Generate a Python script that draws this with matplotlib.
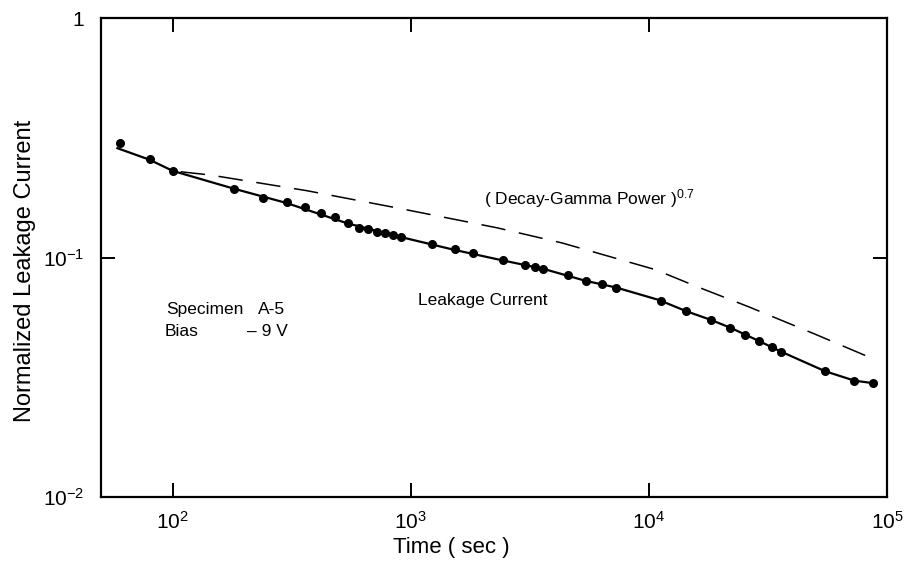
import matplotlib
matplotlib.use("Agg")
import matplotlib.pyplot as plt
from matplotlib.ticker import FixedLocator, FixedFormatter, NullLocator

plt.rcParams['font.family'] = ['Liberation Sans', 'DejaVu Sans']
plt.rcParams['mathtext.default'] = 'regular'

# measured leakage current (normalized) vs time in seconds
time_s = [60, 80, 100, 181, 240, 303, 361, 420, 479, 543, 604, 661, 721, 782,
          842, 909, 1225, 1528, 1824, 2438, 3020, 3327, 3584, 4560, 5450,
          6370, 7290, 11270, 14360, 18300, 21970, 25430, 29100, 32800, 35900,
          54900, 72800, 87100]
leakage = [0.302, 0.257, 0.230, 0.194, 0.178, 0.170, 0.162, 0.154, 0.147,
           0.139, 0.133, 0.131, 0.128, 0.126, 0.1245, 0.122, 0.114, 0.108,
           0.104, 0.0975, 0.0928, 0.0912, 0.0897, 0.0845, 0.0798, 0.0774,
           0.0749, 0.0658, 0.0596, 0.0548, 0.0509, 0.0473, 0.0448, 0.0422,
           0.0404, 0.0335, 0.0306, 0.0299]

# smooth curve drawn through the measurements
fit_t = [58.6, 80, 100, 180, 300, 540, 900, 1500, 2400, 3600, 5400, 7300,
         11000, 14400, 18300, 22000, 29000, 36000, 55000, 73000, 87000]
fit_i = [0.286, 0.256, 0.230, 0.194, 0.169, 0.139, 0.122, 0.108, 0.0975,
         0.0897, 0.080, 0.0749, 0.0665, 0.0596, 0.0548, 0.0509, 0.0448,
         0.0404, 0.0335, 0.0306, 0.0299]

# (decay-gamma power)^0.7
gamma_t = [108, 144, 367, 906, 2307, 4320, 10640, 15850, 26300, 50000, 86100]
gamma_p = [0.228, 0.221, 0.190, 0.160, 0.133, 0.115, 0.089, 0.0757, 0.0622,
           0.0478, 0.038]

xticks = [1e2, 1e3, 1e4, 1e5]
xlabels = ['$10^2$', '$10^3$', '$10^4$', '$10^5$']
yticks = [1e-2, 1e-1, 1]
ylabels = ['$10^{-2}$', '$10^{-1}$', '1']

fig = plt.figure(figsize=(9.12, 5.64), dpi=100)
ax = fig.add_axes([101 / 912, 1 - 497 / 564, 786 / 912, 479 / 564])

ax.plot(fit_t, fit_i, color='black', lw=1.6)
ax.plot(time_s, leakage, 'o', color='black', ms=5.5)
ax.plot(gamma_t, gamma_p, color='black', lw=1.1, linestyle=(0, (16, 9)))

ax.set_xscale('log')
ax.set_yscale('log')
ax.set_xlim(50, 1e5)
ax.set_ylim(1e-2, 1)

ax.xaxis.set_major_locator(FixedLocator(xticks))
ax.xaxis.set_major_formatter(FixedFormatter(xlabels))
ax.yaxis.set_major_locator(FixedLocator(yticks))
ax.yaxis.set_major_formatter(FixedFormatter(ylabels))
ax.xaxis.set_minor_locator(NullLocator())
ax.yaxis.set_minor_locator(NullLocator())
ax.tick_params(which='major', direction='in', length=10, width=1.4,
               top=True, right=True, labelsize=15)
ax.tick_params(axis='x', pad=10)
ax.tick_params(axis='y', pad=12)
for s in ax.spines.values():
    s.set_linewidth(1.6)

ax.text(2030, 0.177, '( Decay-Gamma Power )$^{0.7}$', fontsize=12.5,
        va='center', ha='left')
ax.text(1075, 0.066, 'Leakage Current', fontsize=12.5, va='center', ha='left')
ax.text(94, 0.0607, 'Specimen', fontsize=12.5, va='center', ha='left')
ax.text(228, 0.0607, 'A-5', fontsize=12.5, va='center', ha='left')
ax.text(92.5, 0.0489, 'Bias', fontsize=12.5, va='center', ha='left')
ax.text(205, 0.0489, '– 9 V', fontsize=12.5, va='center', ha='left')

fig.text(25 / 912, 0.52, 'Normalized Leakage Current', rotation=90,
         fontsize=17, va='center', ha='center')
fig.text(451 / 912, 1 - 548 / 564, 'Time ( sec )', fontsize=16,
         va='center', ha='center')

fig.savefig('out.png', dpi=100)
